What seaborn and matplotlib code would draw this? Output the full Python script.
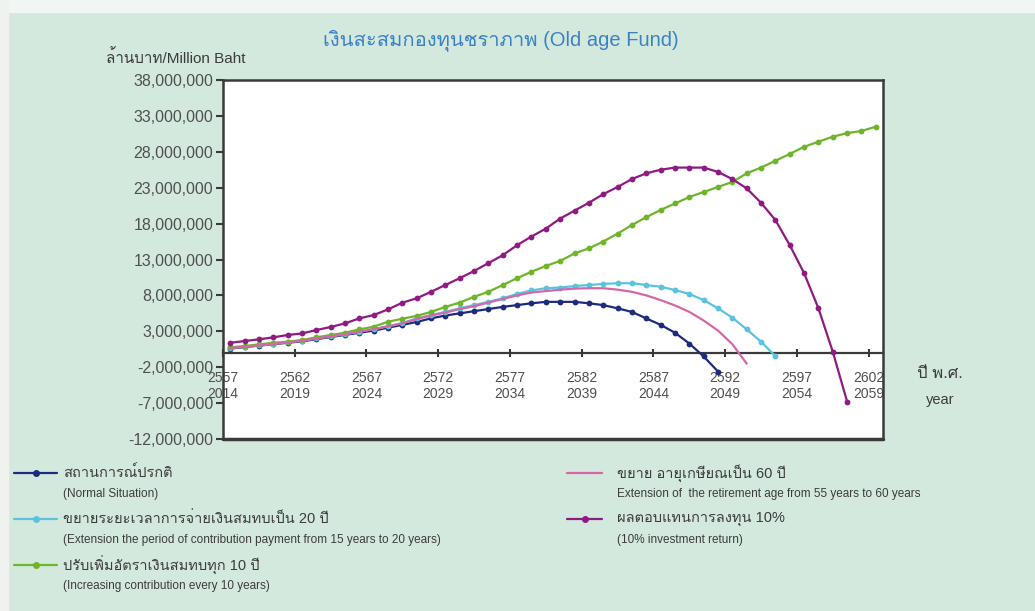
import numpy as np
import pandas as pd
import matplotlib
matplotlib.use("Agg")
import matplotlib.pyplot as plt
import seaborn as sns
from matplotlib import font_manager
from matplotlib.lines import Line2D
from matplotlib.patches import Rectangle
from matplotlib.ticker import FuncFormatter

# --- data (values in millions of axis units) ---
years_be = list(range(2557, 2603))
years_ad = [y - 543 for y in years_be]

normal = [0.6, 0.8, 1.0, 1.2, 1.4, 1.6, 1.9, 2.2, 2.5, 2.8, 3.1, 3.5, 3.9, 4.3, 4.8,
          5.2, 5.5, 5.8, 6.1, 6.4, 6.65, 6.9, 7.1, 7.1, 7.1, 6.9, 6.65, 6.2, 5.7, 4.8,
          3.9, 2.8, 1.3, -0.5, -2.6]
contrib20 = [0.65, 0.85, 1.05, 1.25, 1.45, 1.7, 2.0, 2.3, 2.6, 2.95, 3.3, 3.7, 4.15, 4.8,
             5.26, 5.7, 6.2, 6.65, 7.1, 7.6, 8.2, 8.7, 9.0, 9.1, 9.3, 9.45, 9.6, 9.7, 9.7,
             9.45, 9.2, 8.75, 8.2, 7.35, 6.2, 4.9, 3.27, 1.55, -0.45]
retire60 = [0.65, 0.85, 1.05, 1.25, 1.45, 1.7, 2.0, 2.3, 2.6, 2.95, 3.3, 3.7, 4.1, 4.7,
            5.2, 5.6, 6.1, 6.5, 7.0, 7.5, 8.0, 8.4, 8.6, 8.8, 8.95, 9.0, 9.0, 8.8, 8.5,
            8.0, 7.35, 6.6, 5.7, 4.5, 3.1, 1.2, -1.5]
increase10 = [0.77, 0.95, 1.18, 1.4, 1.55, 1.78, 2.16, 2.48, 2.8, 3.27, 3.64, 4.33, 4.75,
              5.15, 5.7, 6.4, 7.0, 7.8, 8.5, 9.45, 10.4, 11.3, 12.1, 12.8, 13.85, 14.55,
              15.5, 16.6, 17.8, 18.9, 19.9, 20.8, 21.7, 22.4, 23.1, 23.8, 25.0, 25.8,
              26.75, 27.7, 28.7, 29.4, 30.1, 30.6, 30.9, 31.5]
return10 = [1.4, 1.64, 1.88, 2.16, 2.48, 2.7, 3.17, 3.6, 4.1, 4.8, 5.26, 6.05, 6.98, 7.6,
            8.5, 9.45, 10.4, 11.4, 12.5, 13.6, 15.0, 16.2, 17.3, 18.7, 19.8, 20.9, 22.1,
            23.1, 24.2, 25.0, 25.5, 25.8, 25.8, 25.8, 25.2, 24.2, 22.9, 20.9, 18.5, 15.0,
            11.1, 6.2, 0.15, -6.8]

series_th = ["สถานการณ์ปรกติ",
             "ขยายระยะเวลาการจ่ายเงินสมทบเป็น 20 ปี",
             "ปรับเพิ่มอัตราเงินสมทบทุก 10 ปี",
             "ขยาย อายุเกษียณเป็น 60 ปี",
             "ผลตอบแทนการลงทุน 10%"]
series_en = ["(Normal Situation)",
             "(Extension the period of contribution payment from 15 years to 20 years)",
             "(Increasing contribution every 10 years)",
             "Extension of  the retirement age from 55 years to 60 years",
             "(10% investment return)"]
series_vals = [normal, contrib20, increase10, retire60, return10]
colors = ["#1c2b7e", "#5cc3dc", "#6fb52a", "#d566a8", "#8e1a82"]
has_marker = [True, True, True, False, True]

y_ticks = list(range(-12_000_000, 38_000_001, 5_000_000))
x_ticks_be = list(range(2557, 2603, 5))

# --- fonts: find something that can draw Thai ---
def find_thai_font():
    for f in font_manager.fontManager.ttflist:
        try:
            if 0x0E01 in font_manager.get_font(f.fname).get_charmap():
                return f.name
        except Exception:
            pass
    return None

sns.set_theme(style="white")
thai = find_thai_font()
fams = ["Liberation Sans"] + ([thai] if thai else []) + ["DejaVu Sans"]
plt.rcParams["font.family"] = fams

W, H = 1035, 611
bg = "#d3e9de"
fig = plt.figure(figsize=(W / 100, H / 100), dpi=100, facecolor=bg)
# pale strip at the top / left like the screenshot edge
fig.add_artist(Rectangle((0, 1 - 12 / H), 1, 12 / H, transform=fig.transFigure,
                         color="#f1f5f3", zorder=0))
fig.add_artist(Rectangle((0, 0), 8 / W, 1, transform=fig.transFigure,
                         color="#eef3f0", zorder=0))

ax = fig.add_axes([223 / W, 1 - 439 / H, 660 / W, 359 / H])
ax.set_facecolor("white")

# draw series, purple on top
order = [0, 1, 3, 2, 4]
for i in order:
    vals = np.array(series_vals[i]) * 1_000_000
    xs = years_be[:len(vals)]
    sns.lineplot(x=xs, y=vals, ax=ax, color=colors[i], linewidth=1.6,
                 marker="o" if has_marker[i] else None, markersize=4.2,
                 markeredgewidth=0, zorder=3 + i)

ax.set_xlim(2556.5, 2602.5)
ax.set_ylim(-12_000_000, 38_000_000)
ax.set_yticks(y_ticks)
ax.yaxis.set_major_formatter(FuncFormatter(lambda v, p: f"{int(v):,}"))
ax.set_xticks([x - 0.5 for x in x_ticks_be])
ax.set_xticklabels([f"{b}\n{b - 543}" for b in x_ticks_be], linespacing=1.15)

for s in ["left", "top", "right"]:
    ax.spines[s].set_color("#3a3a3a")
    ax.spines[s].set_linewidth(1.8)
ax.spines["bottom"].set_position(("data", 0))
ax.spines["bottom"].set_color("#3a3a3a")
ax.spines["bottom"].set_linewidth(1.6)
# closing line of the frame at the bottom
ax.axhline(-12_000_000, color="#3a3a3a", linewidth=2.5, clip_on=False)

ax.tick_params(axis="y", which="major", direction="out", length=5, width=1.5,
               color="#3a3a3a", labelsize=11.5, labelcolor="#505050", pad=2, left=True)
ax.tick_params(axis="x", which="major", direction="inout", length=6, width=1.5,
               color="#3a3a3a", labelsize=10, labelcolor="#505050", pad=10, bottom=True)
ax.set_xlabel("")
ax.set_ylabel("")

# titles and axis captions
fig.text(501 / W, 1 - 40 / H, "เงินสะสมกองทุนชราภาพ (Old age Fund)", ha="center",
         va="center", fontsize=14.5, color="#3b82c4")
fig.text(176 / W, 1 - 58 / H, "ล้านบาท/Million Baht", ha="center", va="center",
         fontsize=11, color="#3c3c3c")
fig.text(940 / W, 1 - 374 / H, "ปี พ.ศ.", ha="center", va="center", fontsize=12,
         color="#3c3c3c")
fig.text(940 / W, 1 - 400 / H, "year", ha="center", va="center", fontsize=10.5,
         color="#3c3c3c")

# legend, two columns laid out like the original
col_specs = [([0, 1, 2], 14, 57, 63), ([3, 4], 567, 602, 617)]
for rows, hx0, hx1, tx in col_specs:
    for k, i in enumerate(rows):
        yt = 473 + k * 46
        ye = yt + 21
        yf = 1 - yt / H
        fig.add_artist(Line2D([hx0 / W, hx1 / W], [yf, yf], color=colors[i], linewidth=1.6))
        if has_marker[i]:
            fig.add_artist(Line2D([(hx0 + hx1) / 2 / W], [yf], color=colors[i],
                                  marker="o", markersize=4, linestyle="none"))
        fig.text(tx / W, yf, series_th[i], ha="left", va="center",
                 fontsize=10.5, color="#3c3c3c")
        fig.text(tx / W, 1 - ye / H, series_en[i], ha="left", va="center",
                 fontsize=8.5, color="#3c3c3c")

fig.savefig("out.png", dpi=100, facecolor=bg)
